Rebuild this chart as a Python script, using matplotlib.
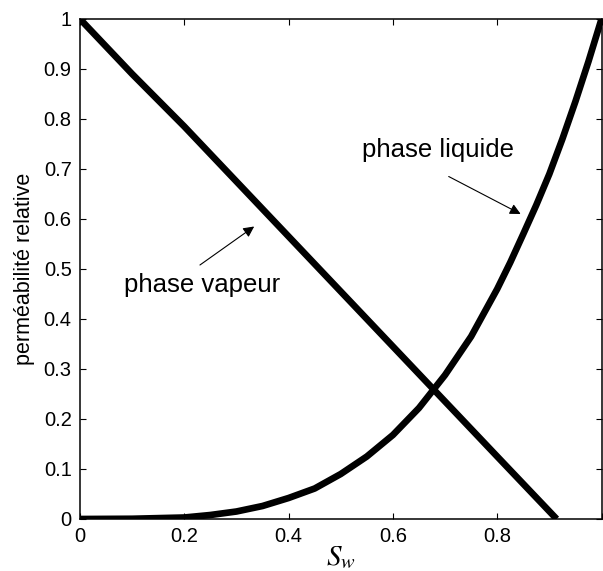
import matplotlib
matplotlib.use("Agg")
import matplotlib.pyplot as plt

# Relative permeability curves versus water saturation
sw_vapeur = [0.0, 0.1, 0.2, 0.3, 0.4, 0.5, 0.6, 0.7, 0.8, 0.914]
kr_vapeur = [1.0, 0.89, 0.785, 0.675, 0.565, 0.455, 0.345, 0.235, 0.125, 0.0]

sw_liquide = [0.0, 0.1, 0.2, 0.25, 0.3, 0.35, 0.4, 0.45, 0.5, 0.55, 0.6,
              0.65, 0.7, 0.75, 0.8, 0.825, 0.85, 0.875, 0.9, 0.925, 0.95,
              0.975, 1.0]
kr_liquide = [0.0, 0.0005, 0.003, 0.008, 0.015, 0.026, 0.042, 0.061, 0.09,
              0.125, 0.168, 0.222, 0.288, 0.365, 0.46, 0.513, 0.57, 0.628,
              0.69, 0.76, 0.835, 0.915, 1.0]

x_ticks = [0.0, 0.2, 0.4, 0.6, 0.8, 1.0]
x_tick_labels = ["0", "0.2", "0.4", "0.6", "0.8", ""]
y_ticks = [0.0, 0.1, 0.2, 0.3, 0.4, 0.5, 0.6, 0.7, 0.8, 0.9, 1.0]
y_tick_labels = ["0", "0.1", "0.2", "0.3", "0.4", "0.5", "0.6", "0.7", "0.8", "0.9", "1"]

plt.rcParams["font.family"] = ["Liberation Sans", "DejaVu Sans"]
plt.rcParams["mathtext.fontset"] = "stix"

fig = plt.figure(figsize=(6.03, 5.71), dpi=100)
ax = fig.add_axes([80 / 603, 52 / 571, 521.5 / 603, 500 / 571])

ax.plot(sw_vapeur, kr_vapeur, color="black", lw=4.8, solid_capstyle="butt",
        solid_joinstyle="round")
ax.plot(sw_liquide, kr_liquide, color="black", lw=4.8, solid_capstyle="butt",
        solid_joinstyle="round")

ax.set_xlim(0, 1)
ax.set_ylim(0, 1)
ax.set_xticks(x_ticks)
ax.set_xticklabels(x_tick_labels)
ax.set_yticks(y_ticks)
ax.set_yticklabels(y_tick_labels)
ax.tick_params(direction="in", length=4, width=0.8, top=True, right=True,
               labelsize=14.5, pad=6)
for sp in ax.spines.values():
    sp.set_linewidth(1.1)

ax.set_ylabel("perméabilité relative", fontsize=15.5, labelpad=6)
ax.set_xlabel(r"$S_w$", fontsize=21, labelpad=-2)

arrow = dict(arrowstyle="-|>", color="black", lw=0.8, mutation_scale=16,
             shrinkA=0, shrinkB=0)
ax.annotate("", xy=(0.334, 0.585), xytext=(0.230, 0.508), arrowprops=arrow)
ax.annotate("", xy=(0.845, 0.61), xytext=(0.707, 0.685), arrowprops=arrow)
ax.text(0.234, 0.4546, "phase vapeur", fontsize=18.5, ha="center", va="baseline")
ax.text(0.686, 0.7246, "phase liquide", fontsize=18.5, ha="center", va="baseline")

fig.savefig("out.png", dpi=100)
